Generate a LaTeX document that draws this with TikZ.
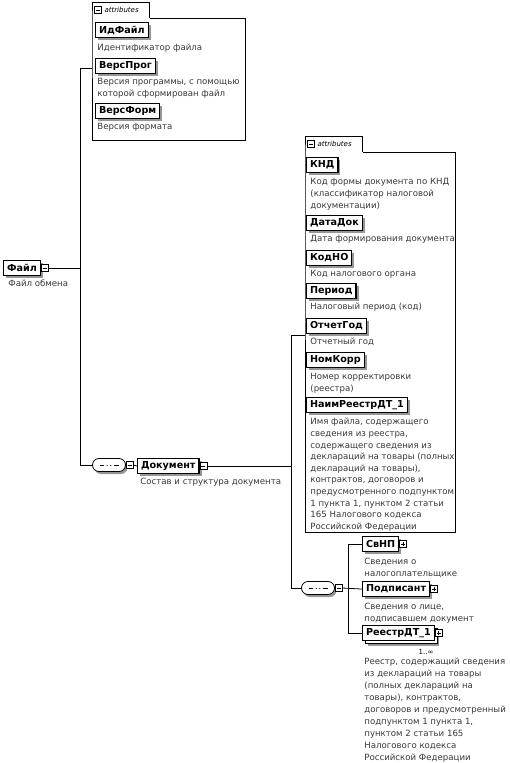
\documentclass[tikz,border=0pt]{standalone}
\usepackage{fontspec}
\setmainfont{DejaVu Sans}
\usetikzlibrary{positioning,shapes.misc,shadows}
\definecolor{shadeGray}{RGB}{150,150,150}
\definecolor{descGray}{RGB}{55,55,55}

\begin{document}
\begin{tikzpicture}[x=1pt, y=-1pt, line width=0.8pt,
  every node/.style={font=\fontsize{8.6}{12}\selectfont},
  elembase/.style={draw, line width=1.1pt, fill=white, anchor=north west,
    font=\fontsize{9.6}{10}\selectfont\bfseries, inner xsep=3.5pt, inner ysep=0pt,
    minimum height=15pt},
  elem/.style={elembase,
    drop shadow={shadow xshift=2.5pt, shadow yshift=-2.5pt, fill=shadeGray, opacity=1}},
  elemmulti/.style={elembase,
    drop shadow={shadow xshift=5pt, shadow yshift=-5pt, fill=shadeGray, opacity=1},
    copy shadow={shadow xshift=3pt, shadow yshift=-3pt}},
  desc/.style={anchor=north west, inner sep=0pt, align=left, text=descGray},
  minusicon/.style={draw, line width=0.6pt, fill=white, minimum size=7pt, inner sep=0pt,
    path picture={\draw[line width=0.6pt] ([xshift=1.5pt]path picture bounding box.west)
      -- ([xshift=-1.5pt]path picture bounding box.east);}},
  plusicon/.style={draw, line width=0.6pt, fill=white, minimum size=7pt, inner sep=0pt,
    path picture={\draw[line width=0.6pt] ([xshift=1.5pt]path picture bounding box.west)
      -- ([xshift=-1.5pt]path picture bounding box.east);
      \draw[line width=0.6pt] ([yshift=1.5pt]path picture bounding box.south)
      -- ([yshift=-1.5pt]path picture bounding box.north);}},
  seqnode/.style={rounded rectangle, draw, line width=0.8pt, fill=white,
    minimum width=33pt, minimum height=13pt, inner sep=0pt,
    drop shadow={shadow xshift=2pt, shadow yshift=-2.5pt, fill=shadeGray, opacity=1},
    path picture={\draw[line width=0.7pt] ([xshift=7pt]path picture bounding box.west)
      -- ([xshift=-7pt]path picture bounding box.east);
      \foreach \dx in {-3.6,0,3.6}
        \fill ([xshift=\dx pt]path picture bounding box.center) circle (1.7pt);}},
  attrframe/.style={anchor=north west, inner sep=0pt},
  attrtab/.style={anchor=south west, inner sep=0pt, minimum width=57pt, minimum height=15pt},
  tabtext/.style={font=\fontsize{7}{8}\selectfont\itshape, inner sep=0pt},
  attrline/.style={line width=0.7pt},
  conn/.style={line width=0.8pt}]
\useasboundingbox (0,0) rectangle (510,763);

% root element
\node[elem] (file) at (3,260) {Файл};
\node[minusicon, right=0pt of file] (fileicon) {};
\node[desc] (filedesc) at (8,279) {Файл обмена};

% attributes of the root
\node[attrframe, minimum width=153pt, minimum height=122pt] (attrA) at (92,18) {};
\node[attrtab] (tabA) at (attrA.north west) {};
\node[minusicon, right=2pt of tabA.west] (tabAicon) {};
\node[tabtext, right=2.5pt of tabAicon] (tabAtext) {attributes};
\draw[attrline] (tabA.south east) -| (attrA.south east) -| (attrA.north west)
  |- (tabA.north east) -- (tabA.south east);
\node[elem] (idfile) at (95,22) {ИдФайл};
\node[desc] (idfiledesc) at (97,44) {Идентификатор файла};
\node[elem] (versprog) at (95,58) {ВерсПрог};
\node[desc] (versprogdesc) at (97,78) {Версия программы, с помощью\\которой сформирован файл};
\node[elem] (versform) at (95,103) {ВерсФорм};
\node[desc] (versformdesc) at (97,123) {Версия формата};

% sequence with Документ
\node[seqnode] (seqA) at (109,465) {};
\node[minusicon, right=0pt of seqA] (seqAicon) {};
\node[elem] (doc) at (137,458) {Документ};
\node[minusicon, right=0pt of doc] (docicon) {};
\node[desc] (docdesc) at (140,478) {Состав и структура документа};

% attributes of Документ
\node[attrframe, minimum width=150pt, minimum height=380pt] (attrB) at (305,152) {};
\node[attrtab] (tabB) at (attrB.north west) {};
\node[minusicon, right=2pt of tabB.west] (tabBicon) {};
\node[tabtext, right=2.5pt of tabBicon] (tabBtext) {attributes};
\draw[attrline] (tabB.south east) -| (attrB.south east) -| (attrB.north west)
  |- (tabB.north east) -- (tabB.south east);
\node[elem] (knd) at (306,157) {КНД};
\node[desc] (knddesc) at (310,178) {Код формы документа по КНД\\(классификатор налоговой\\документации)};
\node[elem] (datadok) at (306,215) {ДатаДок};
\node[desc] (datadokdesc) at (310,235) {Дата формирования документа};
\node[elem] (kodno) at (306,250) {КодНО};
\node[desc] (kodnodesc) at (310,270) {Код налогового органа};
\node[elem] (period) at (306,283) {Период};
\node[desc] (perioddesc) at (310,303) {Налоговый период (код)};
\node[elem] (otchgod) at (306,318) {ОтчетГод};
\node[desc] (otchgoddesc) at (310,338) {Отчетный год};
\node[elem] (nomkorr) at (306,352) {НомКорр};
\node[desc] (nomkorrdesc) at (310,373) {Номер корректировки\\(реестра)};
\node[elem] (naimreestr) at (306,397) {НаимРеестрДТ\_1};
\node[desc, font=\fontsize{8.6}{11.6}\selectfont] (naimreestrdesc) at (310,418)
  {Имя файла, содержащего\\сведения из реестра,\\содержащего сведения из\\деклараций на товары (полных\\деклараций на товары),\\контрактов, договоров и\\предусмотренного подпунктом\\1 пункта 1, пунктом 2 статьи\\165 Налогового кодекса\\Российской Федерации};

% sequence of Документ
\node[seqnode] (seqB) at (318,588) {};
\node[minusicon, right=0pt of seqB] (seqBicon) {};
\node[elem] (svnp) at (362,536) {СвНП};
\node[plusicon, right=0pt of svnp] (svnpicon) {};
\node[desc] (svnpdesc) at (364,558) {Сведения о\\налогоплательщике};
\node[elem] (podp) at (362,581) {Подписант};
\node[plusicon, right=0pt of podp] (podpicon) {};
\node[desc] (podpdesc) at (364,603) {Сведения о лице,\\подписавшем документ};
\node[elemmulti] (reestr) at (362,625) {РеестрДТ\_1};
\node[plusicon, right=0pt of reestr] (reestricon) {};
\node[font=\fontsize{7}{8}\selectfont, inner sep=0pt] (reestrocc) at (426,652) {1..∞};
\node[desc] (reestrdesc) at (364,658) {Реестр, содержащий сведения\\из деклараций на товары\\(полных деклараций на\\товары), контрактов,\\договоров и предусмотренный\\подпунктом 1 пункта 1,\\пунктом 2 статьи 165\\Налогового кодекса\\Российской Федерации};

% connectors
\coordinate (busA) at (80,0);
\coordinate (busB) at (291,0);
\coordinate (busC) at (348,0);
\draw[conn] (fileicon.east) -- (fileicon.east -| busA);
\draw[conn] ([yshift=-50pt]attrA.north west) -| (seqA.west -| busA) -- (seqA.west);
\draw[conn] (seqAicon.east) -- (doc.west);
\draw[conn] (docicon.east) -- (docicon.east -| busB);
\draw[conn] ([yshift=-183pt]attrB.north west) -| (seqB.west -| busB) -- (seqB.west);
\draw[conn] (seqBicon.east) -- (podp.west);
\draw[conn] (svnp.west) -| (reestr.west -| busC) -- (reestr.west);
\end{tikzpicture}
\end{document}
